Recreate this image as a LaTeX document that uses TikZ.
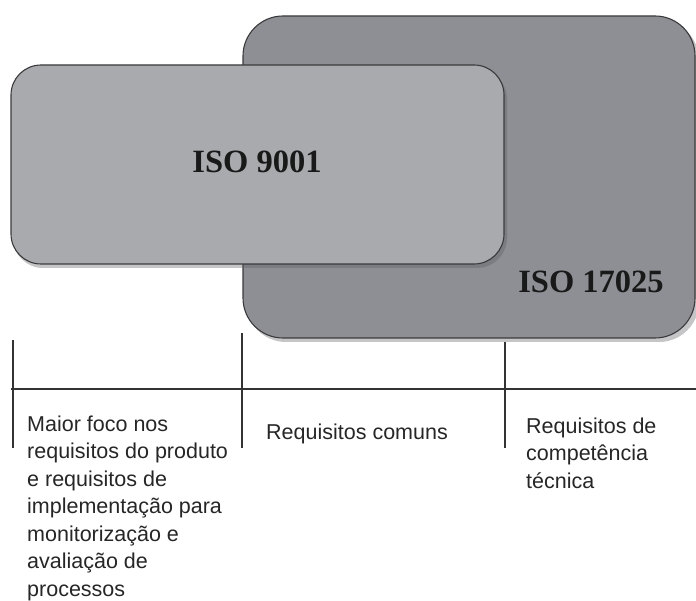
\documentclass[tikz,border=0pt]{standalone}
\usepackage{fontspec}
\setmainfont{Liberation Sans}
\newfontfamily\isofont{Liberation Serif}
\definecolor{bigfill}{HTML}{8E8F94}
\definecolor{smallfill}{HTML}{A9AAAE}
\definecolor{edgecol}{HTML}{3A3A3C}
\definecolor{shadowcol}{HTML}{5A5A5E}
\begin{document}
\begin{tikzpicture}[x=1pt,y=-1pt,
  box/.style={draw=edgecol, line width=1.1pt},
  shade/.style={fill=shadowcol, opacity=0.35},
  isolabel/.style={font=\isofont\bfseries\fontsize{32.5}{36}\selectfont, text=black!90, inner sep=0pt},
  desc/.style={font=\fontsize{21.5}{27.5}\selectfont, text=black!85, align=left, anchor=base west, inner sep=0pt},
  axis/.style={draw=black!80, line width=1.3pt}]
\useasboundingbox (0,0) rectangle (696,601);
% big rectangle (ISO 17025)
\fill[shade, rounded corners=40pt] (246,20) rectangle (699,342);
\draw[box, fill=bigfill, rounded corners=40pt] (243,16) rectangle (695,338);
% small rectangle (ISO 9001)
\fill[shade, rounded corners=30pt] (13,69) rectangle (507,268);
\draw[box, fill=smallfill, rounded corners=30pt] (11,65) rectangle (504,264);
\node[isolabel] (iso9001) at (257,162) {ISO 9001};
\node[isolabel] (iso17025) at (591,282) {ISO 17025};
% axis
\coordinate (axL) at (11,389);
\coordinate (axR) at (696,389);
\draw[axis] (axL) -- (axR);
\coordinate (t1a) at (13,340);  \coordinate (t1b) at (13,448);
\coordinate (t2a) at (242,333); \coordinate (t2b) at (242,448);
\coordinate (t3a) at (505,342); \coordinate (t3b) at (505,448);
\draw[axis] (t1a) -- (t1b);
\draw[axis] (t2a) -- (t2b);
\draw[axis] (t3a) -- (t3b);
% descriptions (base anchor = baseline of last line)
\node[desc] (d1) at (27,596) {Maior foco nos\\requisitos do produto\\e requisitos de\\implementação para\\monitorização e\\avaliação de\\processos};
\node[desc] (d2) at (266,439) {Requisitos comuns};
\node[desc] (d3) at (526,488) {Requisitos de\\competência\\técnica};
\end{tikzpicture}
\end{document}
